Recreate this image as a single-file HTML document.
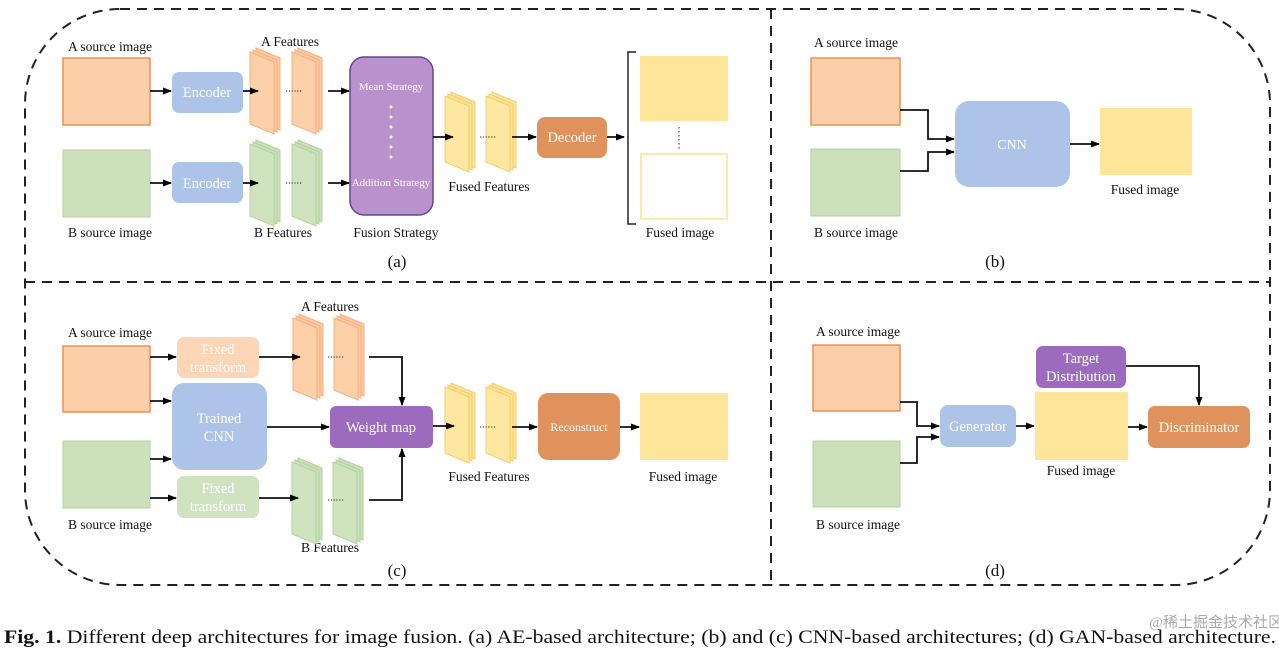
<!DOCTYPE html>
<html><head><meta charset="utf-8"><style>
body{margin:0;background:#fff;}
svg text{font-family:"Liberation Serif",serif;}
</style></head><body>
<svg width="1279" height="651" viewBox="0 0 1279 651" xmlns="http://www.w3.org/2000/svg">
<defs>
<marker id="ar" markerWidth="9" markerHeight="9" refX="8" refY="4.5" orient="auto" markerUnits="userSpaceOnUse"><path d="M0,1 L9,4.5 L0,8 z" fill="#000"/></marker>
<g id="so"><polygon points="6,-4 30,6 30,78 6,68" fill="#fcc9a0" stroke="#f5b080" stroke-width="1"/><polygon points="3,-2 27,8 27,80 3,70" fill="#fcc9a0" stroke="#f5b080" stroke-width="1"/><polygon points="0,0 24,10 24,82 0,72" fill="#fdd0aa" stroke="#f5b080" stroke-width="1"/></g>
<g id="sg"><polygon points="6,-4 30,6 30,78 6,68" fill="#c9e0b8" stroke="#b5d1a0" stroke-width="1"/><polygon points="3,-2 27,8 27,80 3,70" fill="#c9e0b8" stroke="#b5d1a0" stroke-width="1"/><polygon points="0,0 24,10 24,82 0,72" fill="#cfe3bf" stroke="#b5d1a0" stroke-width="1"/></g>
<g id="sy"><polygon points="6,-4 30,6 30,72 6,62" fill="#fde394" stroke="#f3cf70" stroke-width="1"/><polygon points="3,-2 27,8 27,74 3,64" fill="#fde394" stroke="#f3cf70" stroke-width="1"/><polygon points="0,0 24,10 24,76 0,66" fill="#fee7a0" stroke="#f3cf70" stroke-width="1"/></g>
</defs>
<g fill="none" stroke="#222" stroke-width="2" stroke-dasharray="10,7">
<rect x="25" y="9" width="1245" height="576" rx="95" ry="95"/>
<line x1="771" y1="9" x2="771" y2="585"/>
<line x1="25" y1="282" x2="1270" y2="282"/>
</g>
<g font-size="13.5" fill="#111" text-anchor="middle">
<text x="110" y="51">A source image</text>
<text x="110" y="237">B source image</text>
<text x="290" y="46">A Features</text>
<text x="283" y="237">B  Features</text>
<text x="396" y="237">Fusion Strategy</text>
<text x="489" y="191">Fused Features</text>
<text x="680" y="237">Fused image</text>
<text x="397" y="267" font-size="17">(a)</text>
<text x="856" y="47">A source image</text>
<text x="856" y="237">B source image</text>
<text x="1145" y="194">Fused image</text>
<text x="995" y="267" font-size="17">(b)</text>
<text x="110" y="337">A source image</text>
<text x="110" y="529">B source image</text>
<text x="330" y="311">A Features</text>
<text x="330" y="552">B Features</text>
<text x="489" y="481">Fused Features</text>
<text x="683" y="481">Fused image</text>
<text x="397" y="576" font-size="17">(c)</text>
<text x="858" y="336">A source image</text>
<text x="858" y="529">B source image</text>
<text x="1081" y="475">Fused image</text>
<text x="995" y="576" font-size="17">(d)</text>
</g>
<rect x="63" y="58" width="87" height="67" fill="#fdcfa9" stroke="#ee8f55" stroke-width="1.5"/>
<rect x="63" y="150" width="87" height="67" fill="#cbe0bb" stroke="#b5d1a0" stroke-width="1"/>
<rect x="172" y="72" width="71" height="41" rx="7" fill="#adc3e7"/>
<rect x="172" y="162" width="71" height="41" rx="7" fill="#adc3e7"/>
<use href="#so" x="250" y="52"/><use href="#so" x="292" y="52"/>
<use href="#sg" x="250" y="144"/><use href="#sg" x="292" y="144"/>
<rect x="350" y="57" width="83" height="158" rx="14" fill="#b992cc" stroke="#5c4a8c" stroke-width="1.5"/>
<use href="#sy" x="445" y="96"/><use href="#sy" x="486" y="96"/>
<rect x="537" y="117" width="70" height="41" rx="8" fill="#e0925c"/>
<rect x="640" y="56" width="88" height="65" fill="#fee59a"/>
<rect x="641" y="154" width="86" height="65" fill="#fff" stroke="#fde9a8" stroke-width="2"/>
<path d="M636,52 H628 V224 H636" fill="none" stroke="#222" stroke-width="1.5"/>
<line x1="679" y1="127" x2="679" y2="150" stroke="#222" stroke-dasharray="1.5,2.5"/>
<g stroke="#111" stroke-width="1.8" marker-end="url(#ar)">
<line x1="150" y1="91" x2="171" y2="91"/><line x1="150" y1="183" x2="171" y2="183"/>
<line x1="243" y1="91" x2="258" y2="91"/><line x1="243" y1="183" x2="258" y2="183"/>
<line x1="328" y1="91" x2="349" y2="91"/><line x1="328" y1="183" x2="349" y2="183"/>
<line x1="433" y1="137" x2="453" y2="137"/><line x1="512" y1="137" x2="536" y2="137"/>
<line x1="607" y1="137" x2="624" y2="137"/>
</g>
<g stroke="#222" stroke-dasharray="1.2,1.6"><line x1="286" y1="91" x2="302" y2="91"/><line x1="286" y1="183" x2="302" y2="183"/><line x1="480" y1="137" x2="496" y2="137"/></g>
<g fill="#fff" font-size="13" text-anchor="middle"><text x="207" y="97" font-size="14.5">Encoder</text><text x="207" y="188" font-size="14.5">Encoder</text>
<text x="391" y="90" font-size="11">Mean Strategy</text><text x="391" y="186" font-size="11">Addition Strategy</text>
<text x="572" y="142" font-size="14.5">Decoder</text></g>
<g fill="#fff"><circle cx="391" cy="107" r="1.5"/><circle cx="391" cy="117" r="1.5"/><circle cx="391" cy="127" r="1.5"/><circle cx="391" cy="137" r="1.5"/><circle cx="391" cy="147" r="1.5"/><circle cx="391" cy="157" r="1.5"/></g>
<rect x="811" y="58" width="89" height="67" fill="#fdcfa9" stroke="#ee8f55" stroke-width="1.5"/>
<rect x="811" y="149" width="89" height="67" fill="#cbe0bb" stroke="#b5d1a0" stroke-width="1"/>
<rect x="955" y="101" width="115" height="86" rx="14" fill="#adc3e7"/>
<rect x="1100" y="108" width="92" height="67" fill="#fee59a"/>
<text x="1012" y="149" fill="#fff" font-size="14" text-anchor="middle">CNN</text>
<g stroke="#111" stroke-width="1.8" fill="none" marker-end="url(#ar)">
<path d="M900,110 H928 V139 H954"/><path d="M900,171 H928 V152 H954"/>
<line x1="1070" y1="144" x2="1099" y2="144"/>
</g>
<rect x="63" y="346" width="87" height="66" fill="#fdcfa9" stroke="#ee8f55" stroke-width="1.5"/>
<rect x="63" y="441" width="87" height="67" fill="#cbe0bb" stroke="#b5d1a0" stroke-width="1"/>
<rect x="177" y="337" width="82" height="41" rx="7" fill="#fcd6b6"/>
<rect x="172" y="383" width="95" height="87" rx="12" fill="#adc3e7"/>
<rect x="177" y="476" width="82" height="42" rx="7" fill="#cfe3c0"/>
<use href="#so" x="293" y="318"/><use href="#so" x="334" y="318"/>
<use href="#sg" x="292" y="462"/><use href="#sg" x="333" y="462"/>
<rect x="330" y="406" width="103" height="42" rx="6" fill="#9d6bbe"/>
<use href="#sy" x="445" y="387"/><use href="#sy" x="486" y="387"/>
<rect x="538" y="393" width="82" height="67" rx="10" fill="#e0925c"/>
<rect x="640" y="393" width="88" height="67" fill="#fee59a"/>
<g fill="#fff" text-anchor="middle" font-size="14.5">
<text x="218" y="354">Fixed</text><text x="218" y="372">transform</text>
<text x="219" y="423">Trained</text><text x="219" y="441">CNN</text>
<text x="218" y="493">Fixed</text><text x="218" y="511">transform</text>
<text x="381" y="432">Weight map</text>
<text x="579" y="431" font-size="12">Reconstruct</text></g>
<g stroke="#111" stroke-width="1.8" fill="none" marker-end="url(#ar)">
<line x1="150" y1="357" x2="176" y2="357"/><line x1="150" y1="401" x2="171" y2="401"/>
<line x1="150" y1="459" x2="171" y2="459"/><line x1="150" y1="498" x2="176" y2="498"/>
<line x1="259" y1="357" x2="300" y2="357"/><line x1="259" y1="498" x2="298" y2="498"/>
<line x1="267" y1="427" x2="329" y2="427"/>
<path d="M369,357 H402 V405"/><path d="M369,500 H402 V449"/>
<line x1="433" y1="426" x2="454" y2="426"/><line x1="512" y1="427" x2="537" y2="427"/>
<line x1="620" y1="427" x2="639" y2="427"/>
</g>
<g stroke="#222" stroke-dasharray="1.2,1.6"><line x1="328" y1="357" x2="344" y2="357"/><line x1="328" y1="500" x2="344" y2="500"/><line x1="480" y1="427" x2="496" y2="427"/></g>
<rect x="813" y="345" width="87" height="66" fill="#fdcfa9" stroke="#ee8f55" stroke-width="1.5"/>
<rect x="813" y="441" width="87" height="66" fill="#cbe0bb" stroke="#b5d1a0" stroke-width="1"/>
<rect x="940" y="405" width="76" height="42" rx="8" fill="#adc3e7"/>
<rect x="1036" y="346" width="90" height="42" rx="7" fill="#9d6bbe"/>
<rect x="1035" y="392" width="93" height="68" fill="#fee59a"/>
<rect x="1148" y="406" width="102" height="42" rx="7" fill="#e0925c"/>
<g fill="#fff" text-anchor="middle" font-size="14.5">
<text x="978" y="431">Generator</text>
<text x="1081" y="363">Target</text><text x="1081" y="381">Distribution</text>
<text x="1199" y="432">Discriminator</text></g>
<g stroke="#111" stroke-width="1.8" fill="none" marker-end="url(#ar)">
<path d="M900,402 H917 V426 H939"/><path d="M900,463 H917 V437 H939"/>
<line x1="1016" y1="426" x2="1034" y2="426"/>
<line x1="1128" y1="427" x2="1147" y2="427"/>
<path d="M1126,366 H1199 V405"/>
</g>
<text x="1283" y="627" font-size="15" fill="#aaa" text-anchor="end" font-family="'Liberation Sans','Noto Sans CJK SC',sans-serif">@稀土掘金技术社区</text>
<text x="4" y="643" font-size="18.5" fill="#111" textLength="1272" lengthAdjust="spacingAndGlyphs"><tspan font-weight="bold">Fig. 1.</tspan>  Different deep architectures for image fusion. (a) AE-based architecture; (b) and (c) CNN-based architectures; (d) GAN-based architecture.</text>
</svg>
</body></html>
